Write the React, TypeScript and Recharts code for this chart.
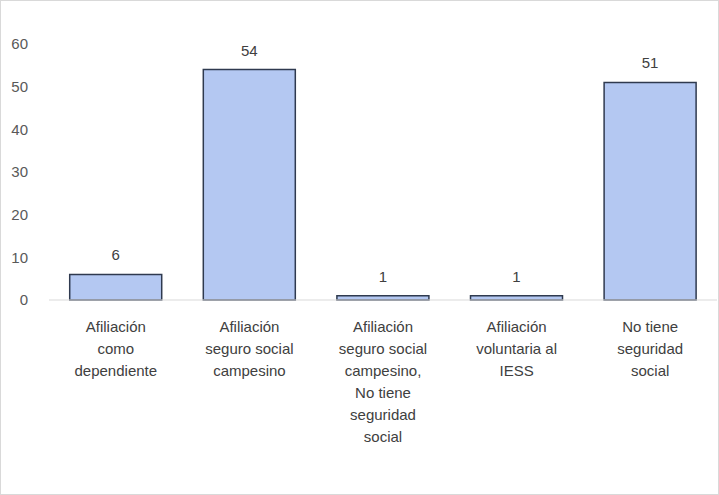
import React from "react";
import { BarChart, Bar, XAxis, YAxis, LabelList } from "recharts";

const categories = [
  "Afiliación\ncomo\ndependiente",
  "Afiliación\nseguro social\ncampesino",
  "Afiliación\nseguro social\ncampesino,\nNo tiene\nseguridad\nsocial",
  "Afiliación\nvoluntaria al\nIESS",
  "No tiene\nseguridad\nsocial",
];
const values = [6, 54, 1, 1, 51];
const yTicks = [0, 10, 20, 30, 40, 50, 60];

const data = categories.map((c, i) => ({ name: c, value: values[i] }));

const FONT = "'Liberation Sans', Arial, sans-serif";

const XTick = (props: any) => {
  const { x, y, payload } = props;
  const lines = String(payload.value).split("\n");
  return (
    <text x={x} y={y} textAnchor="middle" fontFamily={FONT} fontSize={15} fill="#404040">
      {lines.map((l: string, i: number) => (
        <tspan key={i} x={x} dy={i === 0 ? 24 : 22}>
          {l}
        </tspan>
      ))}
    </text>
  );
};

export default function App() {
  return (
    <div
      style={{
        position: "absolute",
        left: 0,
        top: 0,
        width: 717,
        height: 493,
        border: "1px solid #d9d9d9",
        background: "#fff",
      }}
    >
      <BarChart
        width={717}
        height={493}
        data={data}
        margin={{ top: 43, right: 1, bottom: 0, left: 0 }}
        barCategoryGap="15.5%"
      >
        <XAxis
          dataKey="name"
          interval={0}
          height={194}
          tick={<XTick />}
          tickLine={false}
          axisLine={{ stroke: "#d9d9d9" }}
        />
        <YAxis
          domain={[0, 60]}
          ticks={yTicks}
          width={48}
          axisLine={false}
          tickLine={false}
          tickMargin={15}
          tick={{ fontFamily: FONT, fontSize: 15, fill: "#595959" }}
        />
        <Bar dataKey="value" fill="#b4c8f2" stroke="#2f3a4f" strokeWidth={1.5} isAnimationActive={false}>
          <LabelList
            dataKey="value"
            position="top"
            offset={14}
            style={{ fontFamily: FONT, fontSize: 15, fill: "#404040" }}
          />
        </Bar>
      </BarChart>
    </div>
  );
}
